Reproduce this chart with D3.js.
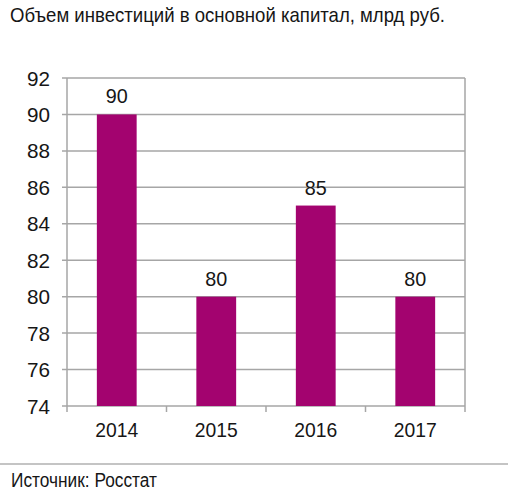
<!DOCTYPE html>
<html><head><meta charset="utf-8">
<script src="https://cdn.jsdelivr.net/npm/d3@7"></script>
<style>
html,body{margin:0;padding:0;background:#fff;}
svg{display:block;}
text{font-family:"Liberation Sans Narrow","Liberation Sans",sans-serif;fill:#161616;}
</style></head>
<body>
<svg id="chart" width="508" height="500"></svg>
<script>
const title = "Объем инвестиций в основной капитал, млрд руб.";
const source = "Источник: Росстат";
const years = ["2014", "2015", "2016", "2017"];
const values = [90, 80, 85, 80];
const yTicks = [74, 76, 78, 80, 82, 84, 86, 88, 90, 92];

const svg = d3.select("#chart");
const m = {left: 67, right: 465, top: 78, bottom: 406};
const barColor = "#a3036f";
const gridColor = "#a6a6a6";

const x = d3.scaleBand().domain(years).range([m.left, m.right]).paddingInner(0.6).paddingOuter(0.3);
const xb = d3.scaleBand().domain(years).range([m.left, m.right]).padding(0);
const y = d3.scaleLinear().domain([74, 92]).range([m.bottom, m.top]);

svg.append("text").attr("x", 10).attr("y", 22).attr("font-size", 21)
  .attr("textLength", 435).attr("lengthAdjust", "spacingAndGlyphs").text(title);

const g = svg.append("g");
g.selectAll("line.grid").data(yTicks).join("line")
  .attr("x1", m.left - 5).attr("x2", m.right).attr("y1", d => y(d)).attr("y2", d => y(d))
  .attr("stroke", gridColor).attr("stroke-width", 1.5);
g.append("line").attr("x1", m.left).attr("x2", m.left).attr("y1", m.top).attr("y2", m.bottom + 6)
  .attr("stroke", gridColor).attr("stroke-width", 1.5);
g.append("line").attr("x1", m.right).attr("x2", m.right).attr("y1", m.top).attr("y2", m.bottom + 6)
  .attr("stroke", gridColor).attr("stroke-width", 1.5);
g.selectAll("line.xt").data(years.slice(1)).join("line")
  .attr("x1", d => xb(d)).attr("x2", d => xb(d)).attr("y1", m.bottom).attr("y2", m.bottom + 6)
  .attr("stroke", gridColor).attr("stroke-width", 1.5);

svg.selectAll("text.yl").data(yTicks).join("text")
  .attr("x", 50).attr("y", d => y(d)).attr("dy", "0.36em").attr("text-anchor", "end")
  .attr("font-size", 21).attr("textLength", 23).attr("lengthAdjust", "spacingAndGlyphs").text(d => d);

svg.selectAll("rect.bar").data(years).join("rect")
  .attr("x", d => x(d)).attr("width", x.bandwidth())
  .attr("y", (d, i) => y(values[i])).attr("height", (d, i) => y(74) - y(values[i]))
  .attr("fill", barColor);

svg.selectAll("text.vl").data(years).join("text")
  .attr("x", d => x(d) + x.bandwidth() / 2).attr("y", (d, i) => y(values[i]) - 11)
  .attr("text-anchor", "middle").attr("font-size", 21)
  .attr("textLength", 22).attr("lengthAdjust", "spacingAndGlyphs").text((d, i) => values[i]);

svg.selectAll("text.xl").data(years).join("text")
  .attr("x", d => xb(d) + xb.bandwidth() / 2).attr("y", 437)
  .attr("text-anchor", "middle").attr("font-size", 21)
  .attr("textLength", 43).attr("lengthAdjust", "spacingAndGlyphs").text(d => d);

svg.append("line").attr("x1", 0).attr("x2", 508).attr("y1", 464).attr("y2", 464)
  .attr("stroke", "#b0b0b0").attr("stroke-width", 1.5);
svg.append("text").attr("x", 11).attr("y", 487).attr("font-size", 20)
  .attr("textLength", 146).attr("lengthAdjust", "spacingAndGlyphs").text(source);
</script>
</body></html>
